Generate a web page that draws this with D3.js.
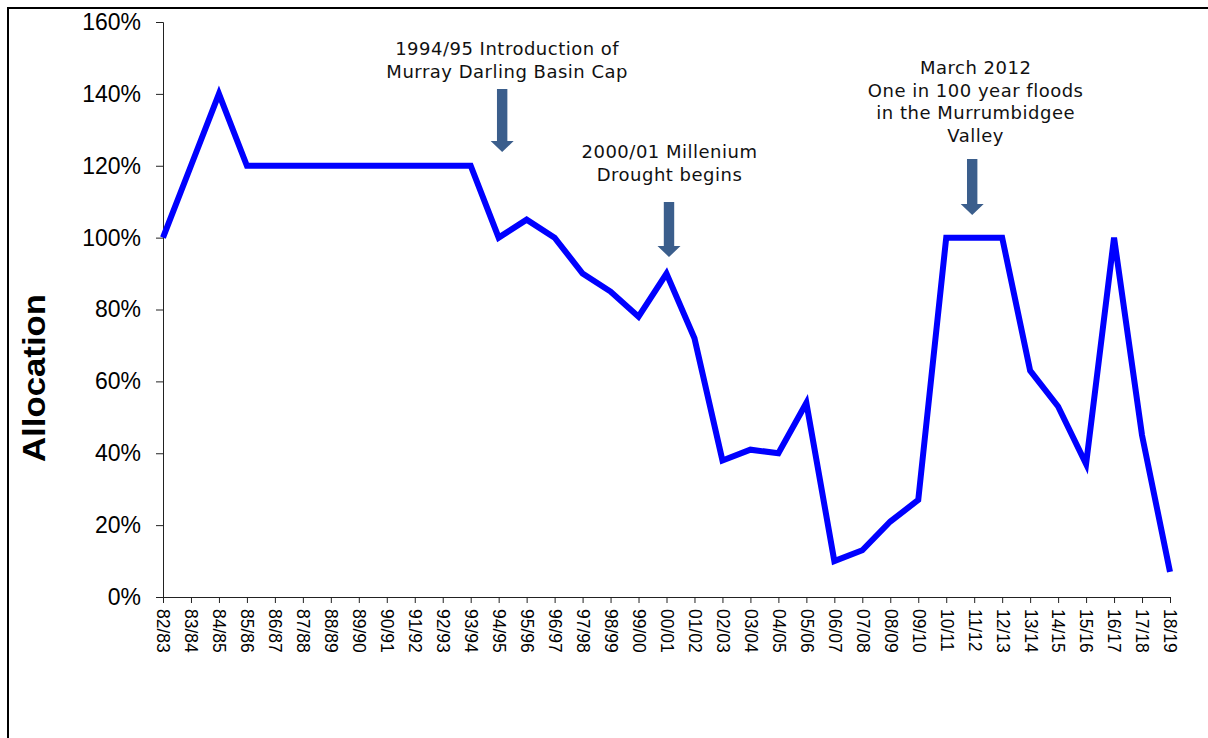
<!DOCTYPE html>
<html><head><meta charset="utf-8">
<script src="https://cdn.jsdelivr.net/npm/d3@7"></script>
<style>body{margin:0;background:#fff;}svg{display:block;}</style>
</head><body>
<script>
const categories = ["82/83","83/84","84/85","85/86","86/87","87/88","88/89","89/90","90/91","91/92","92/93","93/94","94/95","95/96","96/97","97/98","98/99","99/00","00/01","01/02","02/03","03/04","04/05","05/06","06/07","07/08","08/09","09/10","10/11","11/12","12/13","13/14","14/15","15/16","16/17","17/18","18/19"];
const allocation = [100,120,140,120,120,120,120,120,120,120,120,120,100,105,100,90,85,78,90,72,38,41,40,54,10,13,21,27,100,100,100,63,53,37,100,45,7];
const yTicks = [0,20,40,60,80,100,120,140,160];
const annotations = [
  {cat:"94/95", lines:["1994/95 Introduction of","Murray Darling Basin Cap"]},
  {cat:"00/01", lines:["2000/01 Millenium","Drought begins"]},
  {cat:"11/12", lines:["March 2012","One in 100 year floods","in the Murrumbidgee","Valley"]}
];

const W=1208,H=738;
const svg=d3.select("body").append("svg").attr("width",W).attr("height",H);
svg.append("rect").attr("x",8).attr("y",8).attr("width",1400).attr("height",1000)
  .attr("fill","none").attr("stroke","#000").attr("stroke-width",2);

const pL=163,pR=1170,pT=22,pB=597;
const x=d3.scalePoint().domain(categories).range([pL,pR]);
const y=d3.scaleLinear().domain([0,160]).range([pB,pT]);

const yAxis=svg.append("g").attr("transform",`translate(${pL},0)`)
  .call(d3.axisLeft(y).tickValues(yTicks).tickFormat(d=>d+"%").tickSize(7).tickPadding(15));
yAxis.select(".domain").attr("stroke","#222");
yAxis.selectAll(".tick line").attr("stroke","#222");
yAxis.selectAll("text").attr("font-family","Arial, 'Liberation Sans', sans-serif").attr("font-size",23).attr("fill","#000");

const xAxis=svg.append("g").attr("transform",`translate(0,${pB})`)
  .call(d3.axisBottom(x).tickSize(6).tickSizeOuter(0));
xAxis.select(".domain").attr("stroke","#222");
xAxis.selectAll(".tick line").attr("stroke","#222");
xAxis.selectAll("text").attr("font-family","Arial, 'Liberation Sans', sans-serif").attr("font-size",17.5).attr("fill","#000")
  .attr("transform","rotate(90)").attr("text-anchor","start").attr("dy","0.35em").attr("x",12).attr("y",0);

const line=d3.line().x((d,i)=>x(categories[i])).y(d=>y(d));
svg.append("path").datum(allocation).attr("d",line).attr("fill","none")
  .attr("stroke","#0000FF").attr("stroke-width",6).attr("stroke-linejoin","miter");

svg.append("text").attr("transform","translate(45,378) rotate(-90)").attr("text-anchor","middle")
  .attr("font-family","Arial, 'Liberation Sans', sans-serif").attr("font-weight","bold").attr("font-size",31)
  .attr("textLength",168).attr("lengthAdjust","spacingAndGlyphs").text("Allocation");

const annLayout=[{ty:55,a0:89,a1:152,dx:8.5,adx:3.5},{ty:158,a0:202,a1:257,dx:3,adx:2.5},{ty:74,a0:159,a1:215,dx:1.5,adx:-2}];
annotations.forEach((a,k)=>{
  const cx=x(a.cat), L=annLayout[k];
  const t=svg.append("text").attr("text-anchor","middle").attr("font-family","Verdana, 'DejaVu Sans', sans-serif").attr("font-size",18).attr("letter-spacing",0.5).attr("fill","#111");
  a.lines.forEach((s,i)=>t.append("tspan").attr("x",cx+L.dx).attr("y",L.ty+i*22.7).text(s));
  const ax=cx+L.adx;
  const hw=11.5,sw=5.2,hh=11;
  svg.append("path").attr("fill","#3B5E8C")
    .attr("d",`M${ax-sw},${L.a0}H${ax+sw}V${L.a1-hh}H${ax+hw}L${ax},${L.a1}L${ax-hw},${L.a1-hh}H${ax-sw}Z`);
});
</script>
</body></html>
